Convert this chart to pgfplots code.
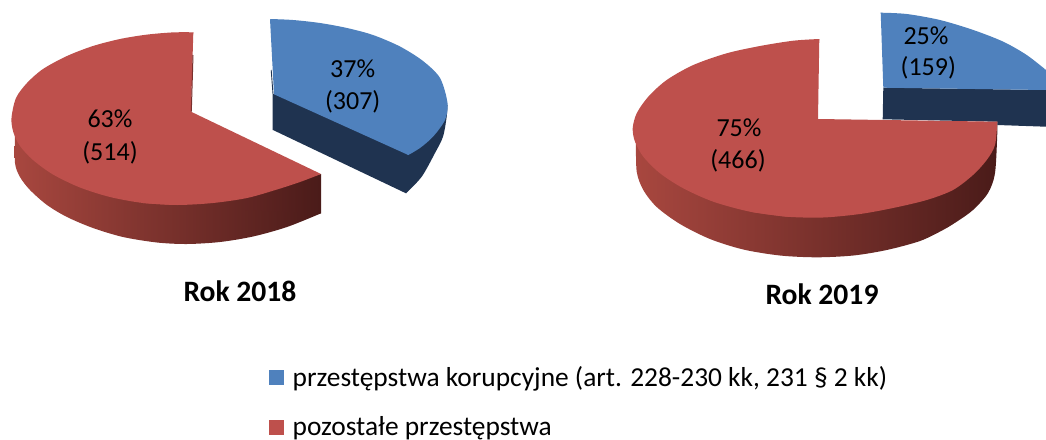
\documentclass[border=0pt]{standalone}
\usepackage{fontspec}
\setmainfont{Carlito}
\usepackage{pgfplots}
\pgfplotsset{compat=1.18}
\definecolor{cblue}{HTML}{4F81BD}
\definecolor{cred}{HTML}{BE504C}
\definecolor{dblue}{HTML}{1F3350}
\definecolor{sideL}{HTML}{A8473F}
\definecolor{sideM}{HTML}{7A302D}
\definecolor{sideR}{HTML}{4A1B19}
\newcommand{\lab}{\fontsize{26}{30}\selectfont}
\newcommand{\tit}{\fontsize{29.6}{32}\selectfont\bfseries}
\begin{document}
\begin{tikzpicture}
\begin{axis}[
  width=1046pt,height=439pt,scale only axis,
  xmin=0,xmax=1046,ymin=0,ymax=439,y dir=reverse,
  hide axis,clip=true,
  legend style={at={(axis cs:269,366)},anchor=north west,draw=none,fill=none,
    font=\fontsize{27.4}{30}\selectfont,row sep=29pt,inner sep=0pt,
    nodes={inner sep=0pt}},
  legend cell align=left,
  every axis plot/.append style={forget plot,mark=none,line width=0pt},
]
\draw[draw=none,fill=none] (axis cs:0,0) rectangle (axis cs:1046,439);
% 2018 blue side
\addplot[draw=none,fill=dblue] coordinates {(273,94) (273,130) (406,193.3) (430,160) (447.5,105)};
\addplot[smooth,draw=none,fill=dblue] coordinates {(406,193.3) (421.7,176.7) (435,153) (443,136.7) (446.7,116.7) (447.5,105)};
\addplot[dblue,line width=0.9pt] coordinates {(271.2,70) (273,94) (273,130)};
% 2018 blue top
\addplot[draw=none,fill=cblue] coordinates {(270,19) (350,60) (408.3,155) (274,94.3)};
\addplot[smooth,draw=none,fill=cblue] coordinates {(270,19) (293,20) (320,23) (347,28) (373,35) (400,46.5) (423,61) (440,78) (447.5,103) (445,120) (433,136.7) (420,148) (408.3,155)};
% 2018 red side
\addplot[smooth,draw=none,left color=sideL,middle color=sideM,right color=sideR] coordinates {(321,213.3) (287,227) (253,236.5) (220,242) (187,244) (157,242.5) (123,237) (93,228) (67,217) (47,205) (30,190) (20,177) (15,163) (15,135)};
\addplot[draw=none,left color=sideR!50!sideM,right color=sideR] coordinates {(245,188) (321,174) (321,213.3) (245,210)};
% 2018 red top
\addplot[draw=none,fill=cred] coordinates {(193.3,32.3) (191,111.7) (321,174) (250,195) (177,205) (100,120)};
\addplot[smooth,draw=none,fill=cred] coordinates {(193.3,32.3) (173,32.4) (147,34.6) (120,39) (93,46) (67,56) (43,69) (27,83) (16,98) (11.5,118) (13.3,132) (20,146) (33,160) (53,174.5) (80,187.5) (110,197) (143,203) (177,205)};
\addplot[smooth,draw=none,fill=cred] coordinates {(143,203) (177,205) (213,203) (247,198) (277,189.5) (300,182) (321,174)};
\addplot[sideM,line width=1pt] coordinates {(193,55) (191.3,111.7)};
% 2019 blue
\addplot[draw=none,fill=dblue] coordinates {(883.3,87.7) (1046,90) (1046,126.7) (997.3,125) (997.3,121.7) (882.7,119.3)};
\addplot[draw=none,fill=cblue] coordinates {(880.7,12.7) (960,33) (1046,70) (1046,90) (883.3,87.7)};
\addplot[smooth,draw=none,fill=cblue] coordinates {(880.7,12.7) (906.7,14) (940,20) (973.3,30) (1003.3,41.7) (1026.7,55) (1046,70)};
% 2019 red side
\addplot[smooth,draw=none,left color=sideL,middle color=sideM,right color=sideR] coordinates {(997.3,121.7) (997.3,133) (995,173) (988,193) (973,210) (956.7,221.7) (943,230) (920,241) (886.7,250) (853.3,255.5) (816.7,257.3) (780,255.5) (743.3,249.5) (710,239) (680,224) (656.7,207) (643.3,190) (636.7,171.7) (636,143)};
% 2019 red top
\addplot[draw=none,fill=cred] coordinates {(819.3,39) (818,119) (997.3,121.7) (900,190) (786.7,216.7) (700,130)};
\addplot[smooth,draw=none,fill=cred] coordinates {(819.3,39) (793.3,40.7) (760,46) (726.7,53.3) (693.3,65) (666.7,80) (648.3,96.7) (636.7,113.3) (632.7,128.3) (635,141.7) (643.3,156.7) (660,173.3) (683.3,188.3) (713.3,201.7) (750,211.7) (786.7,216.7)};
\addplot[smooth,draw=none,fill=cred] coordinates {(750,211.7) (786.7,216.7) (823,217.5) (860,214) (893,208) (926.7,200) (953,190) (973,175) (986.7,160) (995,145) (997.3,121.7)};
% labels
\node[font=\lab] at (axis cs:352.7,69) {37\%};
\node[font=\lab] at (axis cs:352.7,102) {(307)};
\node[font=\lab] at (axis cs:110,119) {63\%};
\node[font=\lab] at (axis cs:110,153) {(514)};
\node[font=\lab] at (axis cs:926,36) {25\%};
\node[font=\lab] at (axis cs:928.3,68) {(159)};
\node[font=\lab] at (axis cs:739,128) {75\%};
\node[font=\lab] at (axis cs:738,161) {(466)};
\node[font=\tit] at (axis cs:240,291) {Rok 2018};
\node[font=\tit] at (axis cs:822,294) {Rok 2019};
% legend
\addlegendimage{legend image code/.code={\fill[cblue,draw=none] (0pt,-8pt) rectangle (15pt,7pt);\path[draw=none,fill=none] (0pt,0pt) -- (23.5pt,0pt);}}
\addlegendentry{przestępstwa korupcyjne (art. 228-230 kk, 231 § 2 kk)}
\addlegendimage{legend image code/.code={\fill[cred,draw=none] (0pt,-8pt) rectangle (15pt,7pt);\path[draw=none,fill=none] (0pt,0pt) -- (23.5pt,0pt);}}
\addlegendentry{pozostałe przestępstwa}
\end{axis}
\end{tikzpicture}
\end{document}
